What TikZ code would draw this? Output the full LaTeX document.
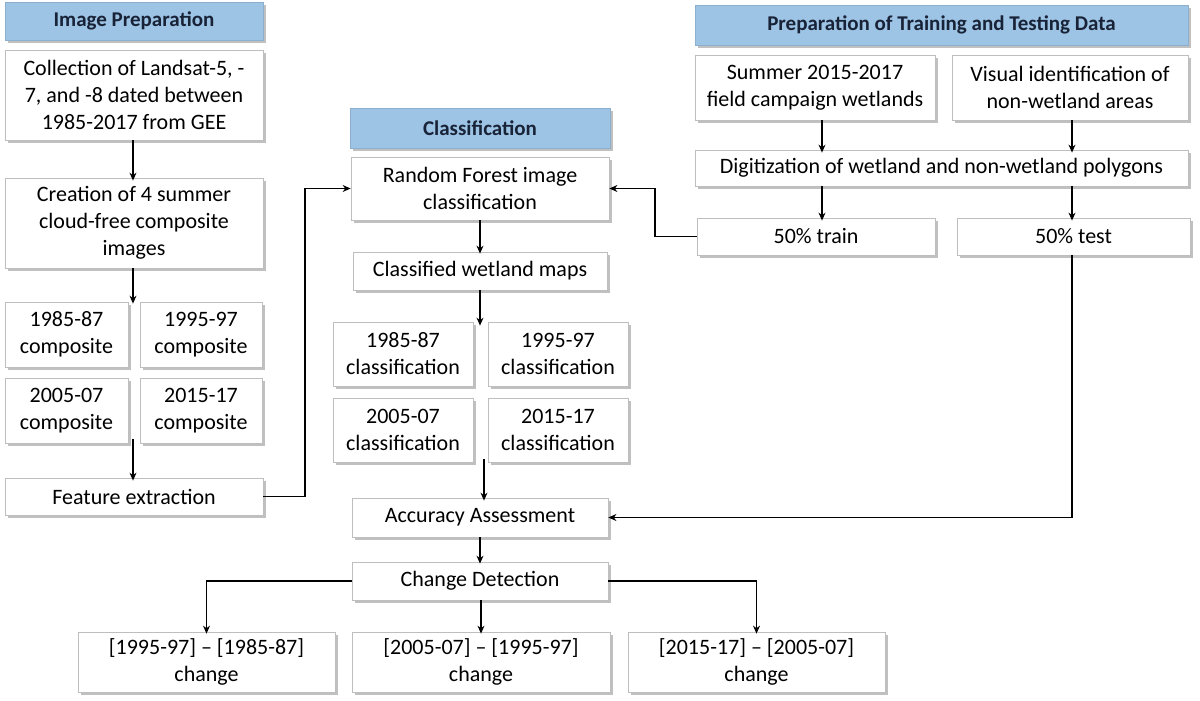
\documentclass[tikz,border=0pt]{standalone}
\usepackage{fontspec}
\setmainfont{Carlito}
\usetikzlibrary{shadows,arrows.meta}
\definecolor{hdrblue}{RGB}{157,195,229}
\definecolor{hdrtext}{RGB}{25,35,55}
\definecolor{boxline}{RGB}{190,190,190}
\tikzset{
  box/.style={draw=boxline, fill=white, line width=0.8pt, align=center, inner sep=2pt,
    font=\fontsize{22}{27}\selectfont, text=black,
    drop shadow={shadow xshift=3pt, shadow yshift=-3pt, fill=black!45, opacity=0.55}},
  hdr/.style={box, fill=hdrblue, draw=hdrblue!90!black, font=\fontsize{21}{25}\selectfont\bfseries, text=hdrtext},
  conn/.style={line width=1.1pt, -{Stealth[length=8pt,width=7pt]}},
  line/.style={line width=1.1pt}
}
\begin{document}
\begin{tikzpicture}[x=1pt,y=-1pt]
\useasboundingbox (0,0) rectangle (1200,701);
% Image preparation column
\node[hdr, minimum width=258, minimum height=38] (hImg) at (134,21) {Image Preparation};
\node[box, minimum width=258, minimum height=90] (coll) at (134,95) {Collection of Landsat-5, -\\7, and -8 dated between\\1985-2017 from GEE};
\node[box, minimum width=258, minimum height=90] (creat) at (134,223) {Creation of 4 summer\\cloud-free composite\\images};
\node[box, minimum width=123, minimum height=65] (c85) at (66.5,334.5) {1985-87\\composite};
\node[box, minimum width=122, minimum height=65] (c95) at (201,334.5) {1995-97\\composite};
\node[box, minimum width=123, minimum height=65] (c05) at (66.5,410.5) {2005-07\\composite};
\node[box, minimum width=122, minimum height=65] (c15) at (201,410.5) {2015-17\\composite};
\node[box, minimum width=258, minimum height=37] (feat) at (134,496.5) {Feature extraction};
% Classification column
\node[hdr, minimum width=260, minimum height=40] (hCls) at (480,128) {Classification};
\node[box, minimum width=258, minimum height=63] (rf) at (480,188.5) {Random Forest image\\classification};
\node[box, minimum width=254, minimum height=38] (cwm) at (480,271) {Classified wetland maps};
\node[box, minimum width=140, minimum height=64] (k85) at (403,354) {1985-87\\classification};
\node[box, minimum width=140, minimum height=64] (k95) at (558,354) {1995-97\\classification};
\node[box, minimum width=140, minimum height=64] (k05) at (403,430) {2005-07\\classification};
\node[box, minimum width=140, minimum height=64] (k15) at (558,430) {2015-17\\classification};
\node[box, minimum width=256, minimum height=39] (acc) at (480,517.5) {Accuracy Assessment};
\node[box, minimum width=256, minimum height=38] (cd) at (480,581) {Change Detection};
\node[box, minimum width=257, minimum height=60] (d1) at (206.5,662) {[1995-97] – [1985-87]\\change};
\node[box, minimum width=258, minimum height=60] (d2) at (481,662) {[2005-07] – [1995-97]\\change};
\node[box, minimum width=257, minimum height=60] (d3) at (756.5,662) {[2015-17] – [2005-07]\\change};
% Training/testing column
\node[hdr, minimum width=493, minimum height=40] (hPrep) at (941.5,25) {Preparation of Training and Testing Data};
\node[box, minimum width=240, minimum height=65] (sum) at (815,87.5) {Summer 2015-2017\\field campaign wetlands};
\node[box, minimum width=236, minimum height=65] (vis) at (1070,87.5) {Visual identification of\\non-wetland areas};
\node[box, minimum width=493, minimum height=36] (dig) at (941.5,168) {Digitization of wetland and non-wetland polygons};
\node[box, minimum width=238, minimum height=37] (train) at (816,236.5) {50\% train};
\node[box, minimum width=233, minimum height=37] (test) at (1073.5,236.5) {50\% test};
% helper coordinates
\coordinate (xL) at (133,0);
\coordinate (xA) at (822,0);
\coordinate (xB) at (1072,0);
\coordinate (xK) at (484,0);
% connectors left column
\draw[conn] (coll.south -| xL) -- ([yshift=-3pt]creat.north -| xL);
\draw[conn] (creat.south -| xL) -- ([yshift=-2pt]c85.north -| xL);
\draw[conn] ([yshift=4pt]c05.south -| xL) -- ([yshift=-3pt]feat.north -| xL);
\coordinate (fr) at (305,0);
\draw[conn] (feat.east) -- (feat.east -| fr) -- (rf.west -| fr) -- (rf.west);
% classification column
\draw[conn] (rf.south) -- ([yshift=-2pt]cwm.north);
\draw[conn] (cwm.south) -- ([yshift=-4pt]cwm.south |- k85.north);
\draw[conn] ([yshift=3pt]k05.south -| xK) -- ([yshift=-3pt]acc.north -| xK);
\draw[conn] (acc.south) -- ([yshift=-2pt]cd.north);
\draw[conn] (cd.west) -| ([yshift=-2pt]d1.north);
\draw[conn] (cd.south -| d2) -- ([yshift=-2pt]d2.north);
\draw[conn] (cd.east) -| ([yshift=-2pt]d3.north);
% training column
\draw[conn] (sum.south -| xA) -- ([yshift=-3pt]dig.north -| xA);
\draw[conn] (vis.south -| xB) -- ([yshift=-3pt]dig.north -| xB);
\draw[conn] (dig.south -| xA) -- ([yshift=-3pt]train.north -| xA);
\draw[conn] (dig.south -| xB) -- ([yshift=-3pt]test.north -| xB);
\coordinate (tr) at (655,0);
\draw[conn] (train.west) -- (train.west -| tr) -- (rf.east -| tr) -- (rf.east);
\draw[conn] (test.south -| xB) -- (acc.east -| xB) -- (acc.east);
\end{tikzpicture}
\end{document}
